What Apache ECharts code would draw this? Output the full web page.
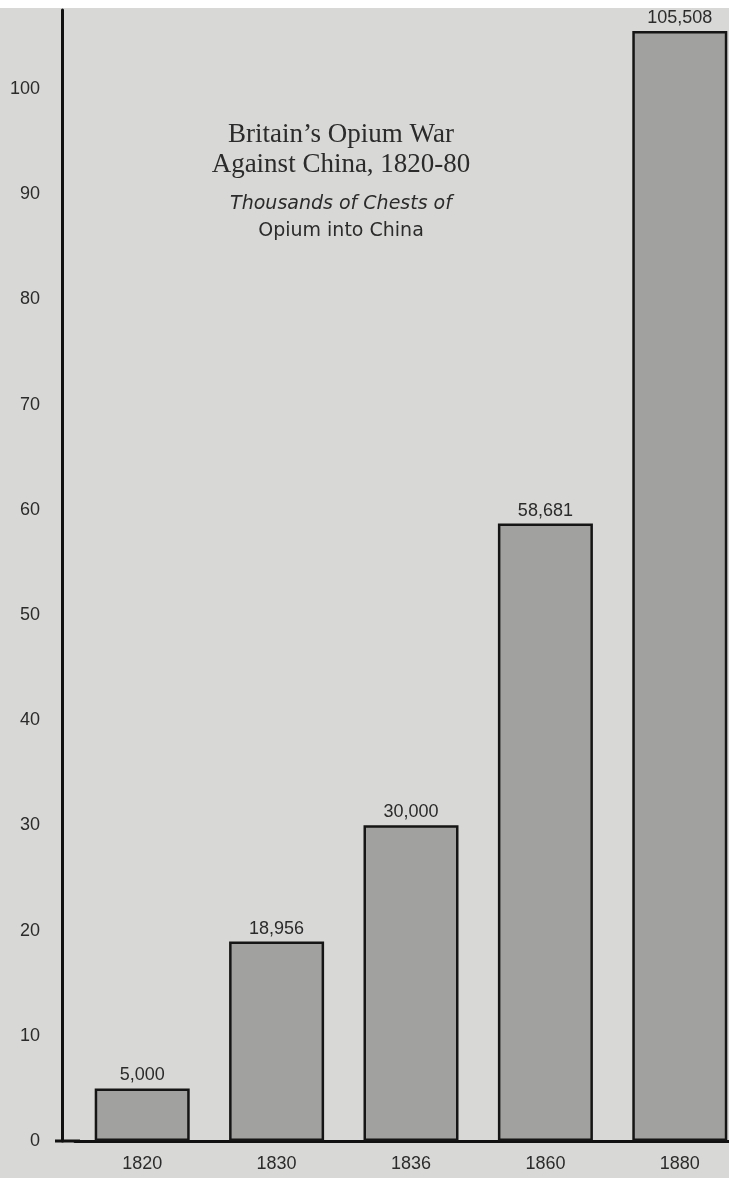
<!DOCTYPE html>
<html>
<head>
<meta charset="utf-8">
<script src="https://cdn.jsdelivr.net/npm/echarts@6/dist/echarts.min.js"></script>
<style>
  html, body { margin: 0; padding: 0; background: #fff; }
  #chart { width: 729px; height: 1178px; }
</style>
</head>
<body>
<div id="chart"></div>
<script>
// thousands of chests of opium into China
const years = ['1820', '1830', '1836', '1860', '1880']
const chests = [5.0, 18.956, 30.0, 58.681, 105.508]

const ink = '#2b2b2b'
const paper = '#d8d8d6'

const mycharts = echarts.init(document.getElementById('chart'))

function caption (text, y, font) {
  return {
    type: 'text', x: 341, y: y, z: 50,
    style: { text: text, fill: ink, font: font, align: 'center', verticalAlign: 'middle' }
  }
}

const option = {
  backgroundColor: paper,
  animation: false,
  // the scan cuts the last bar at the right edge, so the grid runs past it
  grid: { left: 75, width: 672, top: 10, bottom: 37, outerBoundsMode: 'none' },
  xAxis: {
    type: 'category',
    data: years,
    axisLine: { lineStyle: { color: '#111', width: 3 } },
    axisTick: { show: false },
    axisLabel: { color: ink, fontSize: 18, fontFamily: 'Liberation Sans', margin: 14 }
  },
  yAxis: {
    type: 'value',
    min: 0,
    max: 107.5,
    interval: 10,
    offset: 13,
    axisLine: { show: true, lineStyle: { color: '#111', width: 3 } },
    axisTick: { show: false },
    splitLine: { show: false },
    axisLabel: {
      color: ink,
      fontSize: 18,
      fontFamily: 'Liberation Sans',
      margin: 22,
      formatter: v => (v % 10 === 0 ? String(v) : '')
    }
  },
  series: [{
    type: 'bar',
    data: chests,
    barWidth: 95,
    itemStyle: { color: '#a1a19f', borderColor: '#151515', borderWidth: 2.5 },
    label: {
      show: true,
      position: 'top',
      distance: 4,
      color: ink,
      fontSize: 18,
      fontFamily: 'Liberation Sans',
      formatter: p => Math.round(p.value * 1000).toLocaleString('en-US')
    }
  }],
  graphic: [
    { type: 'rect', left: 0, top: 0, shape: { width: 729, height: 8 }, style: { fill: '#fff' }, z: 100 },
    caption('Britain\u2019s Opium War', 135, '27px "Liberation Serif"'),
    caption('Against China, 1820-80', 165, '27px "Liberation Serif"'),
    caption('Thousands of Chests of', 204, 'italic 19px "DejaVu Sans"'),
    caption('Opium into China', 231, '19px "DejaVu Sans"')
  ]
}

mycharts.setOption(option)

// extend the x axis line left to meet the offset y axis
const zero = mycharts.convertToPixel({ gridIndex: 0 }, [0, 0])
mycharts.setOption({
  graphic: option.graphic.concat([{
    type: 'line', z: 60,
    shape: { x1: 55, y1: zero[1], x2: 80, y2: zero[1] },
    style: { stroke: '#111', lineWidth: 3 }
  }])
})
</script>
</body>
</html>
